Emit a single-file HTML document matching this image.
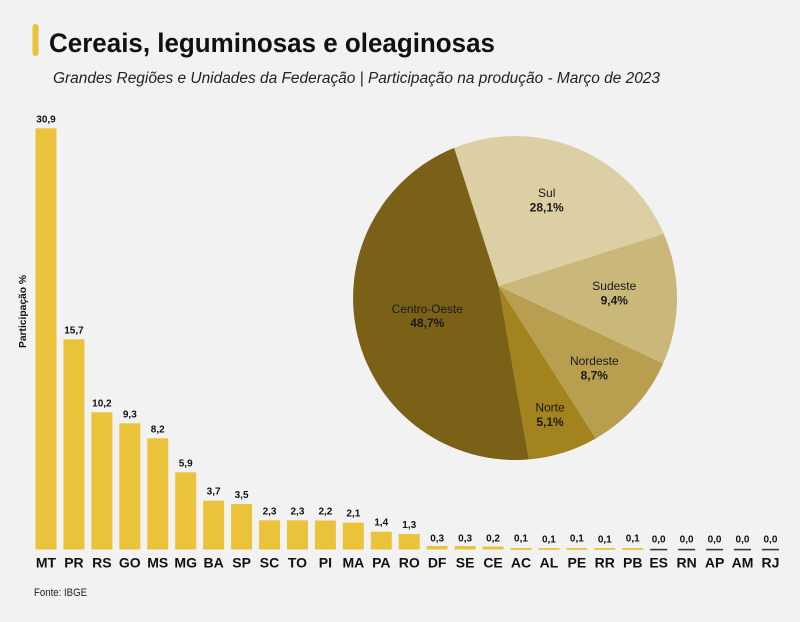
<!DOCTYPE html>
<html><head><meta charset="utf-8"><style>
html,body{margin:0;padding:0;background:#f2f2f2;}
svg{display:block;font-family:"Liberation Sans",Arial,sans-serif;}
</style></head><body>
<svg width="800" height="622" viewBox="0 0 800 622" xmlns="http://www.w3.org/2000/svg">
<rect width="800" height="622" fill="#f2f2f2"/>
<rect x="32.5" y="24" width="6" height="32" rx="3" fill="#ebc33b"/>
<text x="49" y="52" font-size="27" font-weight="bold" fill="#111" textLength="446" lengthAdjust="spacingAndGlyphs">Cereais, leguminosas e oleaginosas</text>
<text x="53" y="83" font-size="15.5" font-style="italic" fill="#222" textLength="607" lengthAdjust="spacingAndGlyphs">Grandes Regiões e Unidades da Federação | Participação na produção - Março de 2023</text>
<text transform="translate(26,311.5) rotate(-90)" text-anchor="middle" font-size="10" font-weight="bold" fill="#111" textLength="73" lengthAdjust="spacingAndGlyphs">Participação %</text>
<text x="34" y="596" font-size="11" fill="#222" textLength="53" lengthAdjust="spacingAndGlyphs">Fonte: IBGE</text>

<g fill="#ebc33b">
<rect x="35.5" y="128.3" width="21" height="421.2"/>
<rect x="63.44" y="339.3" width="21" height="210.2"/>
<rect x="91.38" y="412.3" width="21" height="137.2"/>
<rect x="119.32" y="423.3" width="21" height="126.2"/>
<rect x="147.26" y="438.3" width="21" height="111.2"/>
<rect x="175.2" y="472.3" width="21" height="77.2"/>
<rect x="203.14" y="500.7" width="21" height="48.8"/>
<rect x="231.08" y="504" width="21" height="45.5"/>
<rect x="259.02" y="520.3" width="21" height="29.2"/>
<rect x="286.96" y="520.3" width="21" height="29.2"/>
<rect x="314.9" y="520.5" width="21" height="29"/>
<rect x="342.84" y="522.7" width="21" height="26.8"/>
<rect x="370.78" y="531.7" width="21" height="17.8"/>
<rect x="398.72" y="534" width="21" height="15.5"/>
<rect x="426.66" y="546" width="21" height="3.5"/>
<rect x="454.6" y="546" width="21" height="3.5"/>
<rect x="482.54" y="546.5" width="21" height="3"/>
<rect x="510.48" y="548" width="21" height="1.8"/>
<rect x="538.42" y="548" width="21" height="1.8"/>
<rect x="566.36" y="548" width="21" height="1.8"/>
<rect x="594.3" y="548" width="21" height="1.8"/>
<rect x="622.24" y="548" width="21" height="1.8"/>
</g>
<g fill="#3a3a3a">
<rect x="650.18" y="548.8" width="17" height="1.6"/>
<rect x="678.12" y="548.8" width="17" height="1.6"/>
<rect x="706.06" y="548.8" width="17" height="1.6"/>
<rect x="734" y="548.8" width="17" height="1.6"/>
<rect x="761.94" y="548.8" width="17" height="1.6"/>
</g>

<g font-size="10" font-weight="bold" fill="#111" text-anchor="middle">
<text x="46" y="122.3">30,9</text>
<text x="73.94" y="333.3">15,7</text>
<text x="101.88" y="406.3">10,2</text>
<text x="129.82" y="417.3">9,3</text>
<text x="157.76" y="432.3">8,2</text>
<text x="185.7" y="466.3">5,9</text>
<text x="213.64" y="494.7">3,7</text>
<text x="241.58" y="498">3,5</text>
<text x="269.52" y="514.3">2,3</text>
<text x="297.46" y="514.3">2,3</text>
<text x="325.4" y="514.5">2,2</text>
<text x="353.34" y="516.7">2,1</text>
<text x="381.28" y="525.7">1,4</text>
<text x="409.22" y="528">1,3</text>
<text x="437.16" y="541.5">0,3</text>
<text x="465.1" y="541.5">0,3</text>
<text x="493.04" y="541.5">0,2</text>
<text x="520.98" y="541.5">0,1</text>
<text x="548.92" y="542.5">0,1</text>
<text x="576.86" y="541.5">0,1</text>
<text x="604.8" y="542.5">0,1</text>
<text x="632.74" y="541.5">0,1</text>
<text x="658.68" y="542.5">0,0</text>
<text x="686.62" y="542.5">0,0</text>
<text x="714.56" y="542.5">0,0</text>
<text x="742.5" y="542.5">0,0</text>
<text x="770.44" y="542.5">0,0</text>
</g>

<g font-size="14" font-weight="bold" fill="#111" text-anchor="middle">
<text x="46" y="567.3">MT</text>
<text x="73.94" y="567.3">PR</text>
<text x="101.88" y="567.3">RS</text>
<text x="129.82" y="567.3">GO</text>
<text x="157.76" y="567.3">MS</text>
<text x="185.7" y="567.3">MG</text>
<text x="213.64" y="567.3">BA</text>
<text x="241.58" y="567.3">SP</text>
<text x="269.52" y="567.3">SC</text>
<text x="297.46" y="567.3">TO</text>
<text x="325.4" y="567.3">PI</text>
<text x="353.34" y="567.3">MA</text>
<text x="381.28" y="567.3">PA</text>
<text x="409.22" y="567.3">RO</text>
<text x="437.16" y="567.3">DF</text>
<text x="465.1" y="567.3">SE</text>
<text x="493.04" y="567.3">CE</text>
<text x="520.98" y="567.3">AC</text>
<text x="548.92" y="567.3">AL</text>
<text x="576.86" y="567.3">PE</text>
<text x="604.8" y="567.3">RR</text>
<text x="632.74" y="567.3">PB</text>
<text x="658.68" y="567.3">ES</text>
<text x="686.62" y="567.3">RN</text>
<text x="714.56" y="567.3">AP</text>
<text x="742.5" y="567.3">AM</text>
<text x="770.44" y="567.3">RJ</text>
</g>

<g>
<path d="M498.5,286 L454.1,147.9 A162,162 0 0 1 663.8,233.8 Z" fill="#dccfa4"/>
<path d="M498.5,286 L663.8,233.8 A162,162 0 0 1 663.2,363.5 Z" fill="#cab87a"/>
<path d="M498.5,286 L663.2,363.5 A162,162 0 0 1 595.7,438.5 Z" fill="#b89f50"/>
<path d="M498.5,286 L595.7,438.5 A162,162 0 0 1 528.9,459.4 Z" fill="#a3831e"/>
<path d="M498.5,286 L528.9,459.4 A162,162 0 0 1 454.1,147.9 Z" fill="#7b6118"/>
</g>
<g font-size="12" fill="#1a1a1a" text-anchor="middle">
<text x="546.7" y="197">Sul</text>
<text x="546.7" y="211.5" font-weight="bold">28,1%</text>
<text x="614.3" y="290">Sudeste</text>
<text x="614.3" y="304.5" font-weight="bold">9,4%</text>
<text x="594.3" y="365">Nordeste</text>
<text x="594.3" y="379.5" font-weight="bold">8,7%</text>
<text x="550" y="411.5">Norte</text>
<text x="550" y="426" font-weight="bold">5,1%</text>
<text x="427.3" y="313" textLength="71" lengthAdjust="spacingAndGlyphs">Centro-Oeste</text>
<text x="427.3" y="327" font-weight="bold">48,7%</text>
</g>
</svg>
</body></html>
